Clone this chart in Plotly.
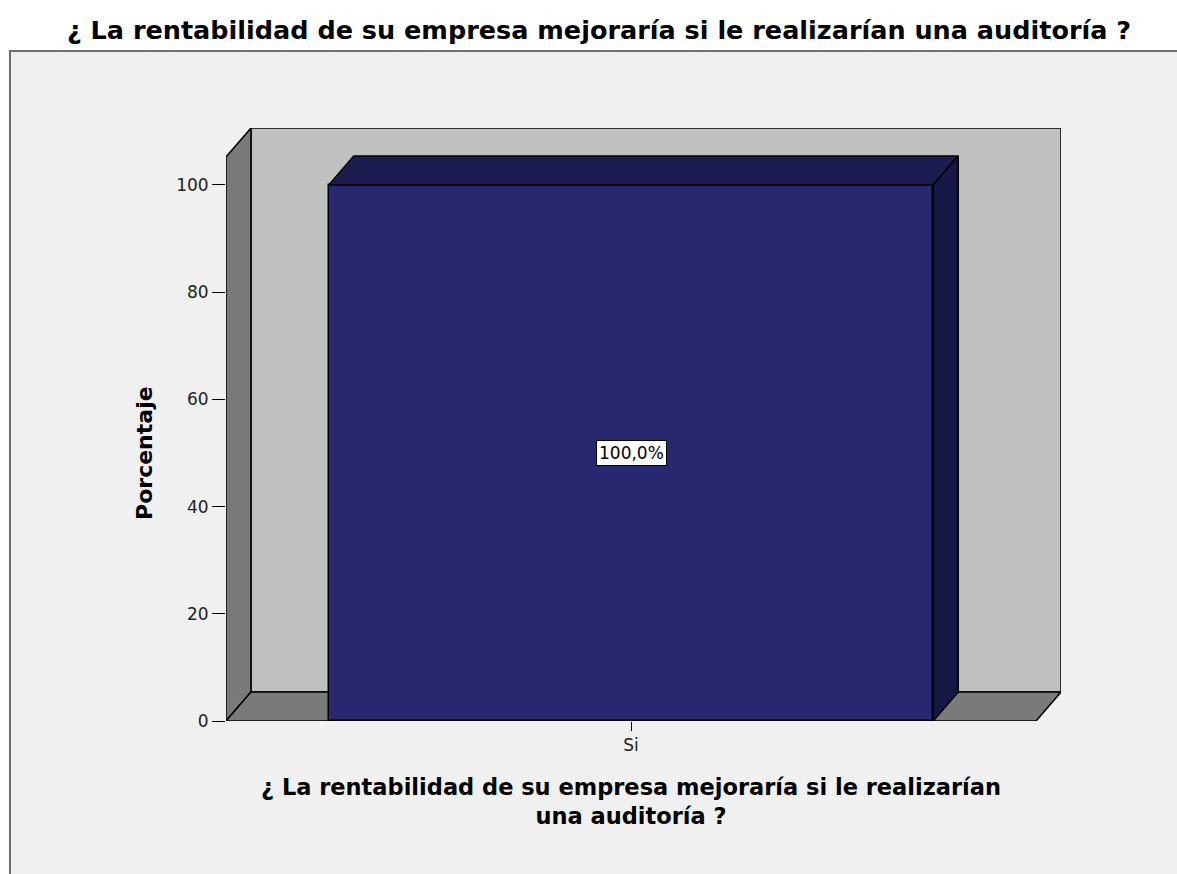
import plotly.graph_objects as go

# ---- data ----
categories = ["Si"]
percentages = [100.0]
value_labels = ["100,0%"]
y_ticks = [0, 20, 40, 60, 80, 100]

title_text = "¿ La rentabilidad de su empresa mejoraría si le realizarían una auditoría ?"
x_title = "¿ La rentabilidad de su empresa mejoraría si le realizarían<br>una auditoría ?"
y_title = "Porcentaje"

# ---- 3D frame geometry (axis units) ----
BAR_W = 1.0
DX = 0.0413          # depth offset along x
DY = 5.41            # depth offset along y
X_LO = -0.670
X_HI = 0.670 + DX
WALL_TOP = 105.2
Y_TOP = WALL_TOP + DY

BACK = "#C0C0C0"
SIDE = "#7A7A7A"
BAR_FRONT = "#282870"
BAR_TOP = "#1C1C50"
BAR_SIDE = "#171746"
EDGE = "#000000"

# plot-area pixel geometry
L, R, T, B = 226, 116, 128, 153
PW = 1177 - L - R
PH = 874 - T - B

fig = go.Figure()

shapes = []
# outer panel
shapes.append(dict(type="rect", xref="paper", yref="paper",
                   x0=(10 - L) / PW, x1=1.25, y0=-0.5, y1=(874 - B - 51) / PH,
                   fillcolor="#F0F0F0", line=dict(color="#6E6E6E", width=2), layer="below"))
# back wall
shapes.append(dict(type="path", xref="x", yref="y", layer="below",
                   path=f"M {X_LO+DX},{DY} L {X_LO+DX},{Y_TOP} L {X_HI},{Y_TOP} L {X_HI},{DY} Z",
                   fillcolor=BACK, line=dict(color=EDGE, width=1.5)))
# left wall
shapes.append(dict(type="path", xref="x", yref="y", layer="below",
                   path=f"M {X_LO},0 L {X_LO},{WALL_TOP} L {X_LO+DX},{Y_TOP} L {X_LO+DX},{DY} Z",
                   fillcolor=SIDE, line=dict(color=EDGE, width=1.5)))
# floor
shapes.append(dict(type="path", xref="x", yref="y", layer="below",
                   path=f"M {X_LO},0 L {X_LO+DX},{DY} L {X_HI},{DY} L {X_HI-DX},0 Z",
                   fillcolor=SIDE, line=dict(color=EDGE, width=1.5)))

# bar front face
fig.add_trace(go.Bar(x=list(range(len(categories))), y=percentages, width=BAR_W,
                     marker=dict(color=BAR_FRONT, line=dict(color=EDGE, width=1.5)),
                     hoverinfo="skip", showlegend=False))

# bar top and side faces (from data values)
for i, v in enumerate(percentages):
    xl, xr = i - BAR_W / 2, i + BAR_W / 2
    fig.add_trace(go.Scatter(x=[xl, xl + DX, xr + DX, xr, xl], y=[v, v + DY, v + DY, v, v],
                             mode="lines", fill="toself", fillcolor=BAR_TOP,
                             line=dict(color=EDGE, width=1.5), hoverinfo="skip", showlegend=False))
    fig.add_trace(go.Scatter(x=[xr, xr + DX, xr + DX, xr, xr], y=[0, DY, v + DY, v, 0],
                             mode="lines", fill="toself", fillcolor=BAR_SIDE,
                             line=dict(color=EDGE, width=1.5), hoverinfo="skip", showlegend=False))

annotations = []
for i, (v, lab) in enumerate(zip(percentages, value_labels)):
    annotations.append(dict(x=i, y=v / 2, xref="x", yref="y", text=lab, showarrow=False,
                            bgcolor="white", bordercolor="black", borderwidth=1, borderpad=2,
                            font=dict(family="DejaVu Sans", size=17, color="black")))
# x title
annotations.append(dict(x=0, y=(874 - B - 801) / PH, xref="x", yref="paper",
                        text="<b>" + x_title + "</b>", showarrow=False, yanchor="middle",
                        font=dict(family="DejaVu Sans", size=22.5, color="black")))
# y title
annotations.append(dict(x=(145 - L) / PW, y=50, xref="paper", yref="y", text="<b>" + y_title + "</b>",
                        showarrow=False, textangle=-90, xanchor="center", yanchor="middle",
                        font=dict(family="DejaVu Sans", size=22, color="black")))

fig.update_layout(
    width=1177, height=874,
    margin=dict(l=L, r=R, t=T, b=B),
    paper_bgcolor="white", plot_bgcolor="rgba(0,0,0,0)",
    title=dict(text="<b>" + title_text + "</b>", x=599 / 1177, xref="container", xanchor="center",
               y=1 - 30 / 874, yref="container", yanchor="middle",
               font=dict(family="DejaVu Sans", size=25.5, color="black")),
    shapes=shapes, annotations=annotations,
    xaxis=dict(range=[X_LO, X_HI], tickvals=list(range(len(categories))), ticktext=categories,
               showgrid=False, zeroline=False, showline=False, ticks="outside", ticklen=9,
               tickcolor="black", tickfont=dict(family="DejaVu Sans", size=17, color="#222")),
    yaxis=dict(range=[0, Y_TOP], tickvals=y_ticks, showgrid=False, zeroline=False, showline=False,
               ticks="outside", ticklen=13, tickcolor="black",
               tickfont=dict(family="DejaVu Sans", size=17, color="#222")),
    bargap=0,
)

fig.write_html("out.html", config={"displayModeBar": False},
               post_script="document.body.style.margin='0';"
                           "document.body.style.overflow='hidden';"
                           "document.documentElement.style.overflow='hidden';")
